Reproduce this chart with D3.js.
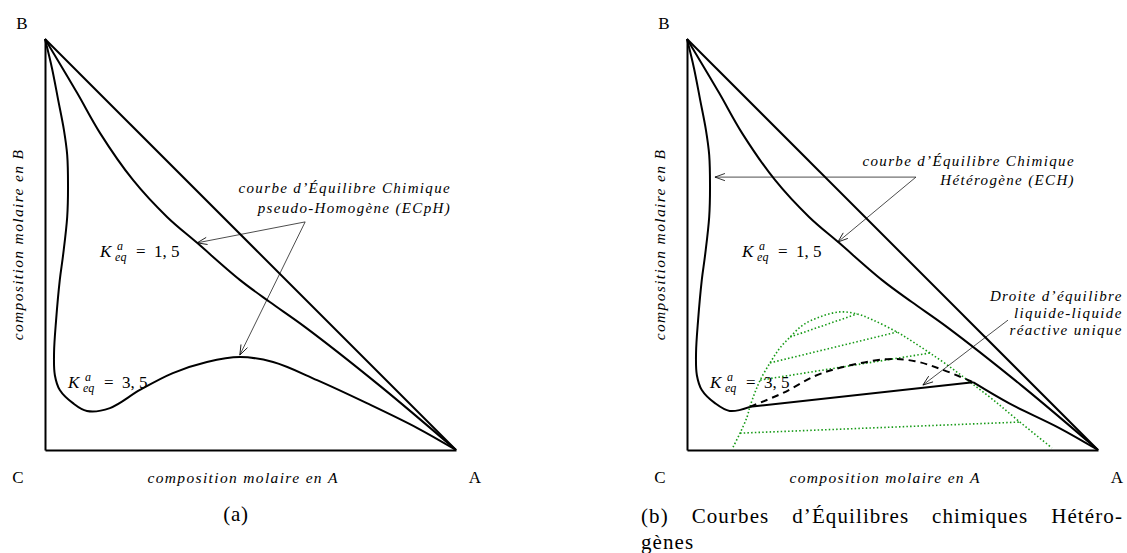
<!DOCTYPE html>
<html>
<head>
<meta charset="utf-8">
<script src="https://cdn.jsdelivr.net/npm/d3@7"></script>
<style>
body { margin: 0; background: #fff; }
.it { font-style: italic; letter-spacing: 1.35px; }
</style>
</head>
<body>
<div id="chart"></div>
<script>
// fractions molaires [xA, xB]
var diagonale = [[0, 1], [1, 0]];

var keq15 = [[0, 1], [0.078, 0.869], [0.134, 0.771], [0.214, 0.657],
    [0.297, 0.567], [0.370, 0.504], [0.474, 0.414], [0.547, 0.360], [0.633, 0.299],
    [0.815, 0.156], [1, 0]];

var keq35 = [[0, 1], [0.017, 0.929], [0.032, 0.852], [0.046, 0.779], [0.054, 0.718],
    [0.056, 0.640], [0.054, 0.567], [0.044, 0.474], [0.036, 0.414], [0.027, 0.316],
    [0.022, 0.236], [0.024, 0.182], [0.036, 0.146], [0.068, 0.114], [0.102, 0.095],
    [0.158, 0.102], [0.231, 0.146], [0.311, 0.187], [0.394, 0.214], [0.474, 0.226],
    [0.555, 0.214], [0.662, 0.170], [0.783, 0.114], [0.905, 0.054], [1, 0]];

// panneau (b) : ECH
var echGauche = [[0, 1], [0.017, 0.929], [0.032, 0.852], [0.046, 0.779], [0.054, 0.718],
    [0.056, 0.640], [0.054, 0.567], [0.044, 0.474], [0.036, 0.414], [0.027, 0.316],
    [0.022, 0.236], [0.024, 0.182], [0.036, 0.146], [0.068, 0.114], [0.104, 0.095],
    [0.153, 0.105]];
var droiteLL = [[0.153, 0.105], [0.696, 0.165]];
var echDroite = [[0.696, 0.165], [0.783, 0.114], [0.905, 0.054], [1, 0]];
var echPointille = [[0.153, 0.105], [0.234, 0.139], [0.311, 0.180], [0.372, 0.200],
    [0.487, 0.221], [0.555, 0.216], [0.620, 0.196], [0.696, 0.165]];

var binodale = [[0.112, 0.007], [0.129, 0.041], [0.146, 0.080], [0.153, 0.105], [0.165, 0.139],
    [0.178, 0.170], [0.202, 0.212], [0.226, 0.248], [0.251, 0.275], [0.282, 0.304],
    [0.324, 0.324], [0.372, 0.336], [0.414, 0.331], [0.453, 0.316], [0.511, 0.287],
    [0.550, 0.263], [0.591, 0.236], [0.640, 0.202], [0.689, 0.165], [0.745, 0.122],
    [0.810, 0.068], [0.888, 0.005]];

var conodes = [
    [[0.129, 0.041], [0.810, 0.068]],
    [[0.178, 0.170], [0.591, 0.236]],
    [[0.202, 0.212], [0.511, 0.287]],
    [[0.251, 0.275], [0.414, 0.331]]
];

// annotations (texte, point de depart des fleches, cibles)
var annotA = {lignes: ["courbe d’Équilibre Chimique", "pseudo-Homogène (ECpH)"],
    pos: [0.988, 0.625], depart: [0.633, 0.555], cibles: [[0.370, 0.504], [0.474, 0.231]]};
var annotB = {lignes: ["courbe d’Équilibre Chimique", "Hétérogène (ECH)"],
    pos: [0.944, 0.691], depart: [0.557, 0.664], cibles: [[0.068, 0.664], [0.367, 0.506]]};
var annotDroite = {lignes: ["Droite d’équilibre", "liquide-liquide", "réactive unique"],
    pos: [1.060, 0.363], depart: [0.781, 0.316], cibles: [[0.574, 0.158]]};

var keqLabels = [{val: "1, 5", pos: [0.134, 0.470]}, {val: "3, 5", pos: [0.056, 0.151]}];

var sommets = ["B", "C", "A"];
var titreX = "composition molaire en A";
var titreY = "composition molaire en B";
var legendeA = "(a)";
var legendeB1 = ["(b)", "Courbes", "d’Équilibres", "chimiques", "Hétéro-"];
var legendeB2 = "gènes";

var W = 411, H = 411;
var police = "'Liberation Serif', 'DejaVu Serif', serif";
var vert = "#169a16";
var xScale = d3.scaleLinear().domain([0, 1]).range([0, W]);
var yScale = d3.scaleLinear().domain([0, 1]).range([H, 0]);

var courbe = d3.line()
    .x(function (d) { return xScale(d[0]); })
    .y(function (d) { return yScale(d[1]); })
    .curve(d3.curveCatmullRom.alpha(0.5));
var droite = d3.line()
    .x(function (d) { return xScale(d[0]); })
    .y(function (d) { return yScale(d[1]); });

var svg = d3.select("#chart").append("svg")
    .attr("width", 1127)
    .attr("height", 553)
    .attr("font-family", police);

svg.append("defs").append("marker")
    .attr("id", "fleche")
    .attr("viewBox", "-11 -6 12 12")
    .attr("refX", 0).attr("refY", 0)
    .attr("markerWidth", 12).attr("markerHeight", 12)
    .attr("markerUnits", "userSpaceOnUse")
    .attr("orient", "auto")
    .append("path")
    .attr("d", "M-10,-3.6L0,0L-10,3.6")
    .attr("fill", "none")
    .attr("stroke", "#000")
    .attr("stroke-width", 0.8);

// petit raccourci : tous les textes passent par ici
function texte(g, px, py, t, taille) {
    return g.append("text").attr("x", px).attr("y", py)
        .attr("font-family", police).attr("font-size", taille).attr("fill", "#000")
        .text(t);
}

// triangle, axes et libelles communs aux deux panneaux
function dessinePanneau(g) {
    g.append("g")
        .attr("transform", "translate(0," + H + ")")
        .call(d3.axisBottom(xScale).tickValues([]).tickSizeOuter(0));
    g.append("g")
        .call(d3.axisLeft(yScale).tickValues([]).tickSizeOuter(0));
    g.selectAll(".domain").attr("stroke", "#000").attr("stroke-width", 2);

    g.append("path").attr("d", droite(diagonale))
        .attr("fill", "none").attr("stroke", "#000").attr("stroke-width", 2);
    g.append("path").attr("d", courbe(keq15))
        .attr("fill", "none").attr("stroke", "#000").attr("stroke-width", 2);

    texte(g, -23, -10, sommets[0], 17).attr("text-anchor", "middle");
    texte(g, -27, H + 33, sommets[1], 17).attr("text-anchor", "middle");
    texte(g, W + 19, H + 33, sommets[2], 17).attr("text-anchor", "middle");

    texte(g, xScale(0.482), H + 33, titreX, 15.5)
        .attr("class", "it").attr("text-anchor", "middle");
    texte(g, 0, 0, titreY, 15.5)
        .attr("class", "it").attr("text-anchor", "middle")
        .attr("transform", "translate(-22," + yScale(0.5) + ") rotate(-90)");
}

function keqLabel(g, d) {
    var px = xScale(d.pos[0]), py = yScale(d.pos[1]);
    texte(g, px, py, "K", 17).attr("font-style", "italic");
    texte(g, px + 17, py - 7, "a", 12).attr("font-style", "italic");
    texte(g, px + 15, py + 4, "eq", 12).attr("font-style", "italic");
    texte(g, px + 36, py, "=", 17);
    texte(g, px + 54, py, d.val, 17).attr("xml:space", "preserve");
}

function annotation(g, a, pas) {
    a.lignes.forEach(function (l, i) {
        texte(g, xScale(a.pos[0]), yScale(a.pos[1]) + i * pas, l, 15)
            .attr("class", "it").attr("text-anchor", "end");
    });
    a.cibles.forEach(function (c) {
        g.append("path").attr("d", droite([a.depart, c]))
            .attr("fill", "none").attr("stroke", "#000").attr("stroke-width", 0.7)
            .attr("marker-end", "url(#fleche)");
    });
}

// ---- panneau (a)
var gA = svg.append("g").attr("transform", "translate(45,39)");
dessinePanneau(gA);
gA.append("path").attr("d", courbe(keq35))
    .attr("fill", "none").attr("stroke", "#000").attr("stroke-width", 2);
keqLabels.forEach(function (d) { keqLabel(gA, d); });
annotation(gA, annotA, 20);

// ---- panneau (b)
var gB = svg.append("g").attr("transform", "translate(687,39)");
dessinePanneau(gB);
keqLabels.forEach(function (d) { keqLabel(gB, d); });

gB.append("path").attr("d", courbe(binodale))
    .attr("fill", "none").attr("stroke", vert).attr("stroke-width", 1.6)
    .attr("stroke-dasharray", "1.5,2.2");
gB.selectAll(".conode").data(conodes).enter().append("path")
    .attr("class", "conode")
    .attr("d", function (d) { return droite(d); })
    .attr("fill", "none").attr("stroke", vert).attr("stroke-width", 1.6)
    .attr("stroke-dasharray", "1.5,2.2");

gB.append("path").attr("d", courbe(echGauche))
    .attr("fill", "none").attr("stroke", "#000").attr("stroke-width", 2);
gB.append("path").attr("d", droite(droiteLL))
    .attr("fill", "none").attr("stroke", "#000").attr("stroke-width", 2);
gB.append("path").attr("d", courbe(echDroite))
    .attr("fill", "none").attr("stroke", "#000").attr("stroke-width", 2);
gB.append("path").attr("d", courbe(echPointille))
    .attr("fill", "none").attr("stroke", "#000").attr("stroke-width", 2)
    .attr("stroke-dasharray", "7,5");

annotation(gB, annotB, 19);
annotation(gB, annotDroite, 17);

// ---- legendes
texte(svg, 236, 521, legendeA, 21).attr("text-anchor", "middle").attr("letter-spacing", "0.8px");

// ligne justifiee de 641 a 1123
var mots = svg.selectAll(".motB").data(legendeB1).enter().append("text")
    .attr("class", "motB").attr("y", 523)
    .attr("font-family", police).attr("font-size", 21)
    .attr("letter-spacing", "1.1px")
    .text(function (d) { return d; });
var largeurs = [];
mots.each(function () { largeurs.push(this.getComputedTextLength()); });
var ecart = (1123 - 641 - d3.sum(largeurs)) / (largeurs.length - 1);
var cx = 641;
mots.attr("x", function (d, i) {
    var v = cx;
    cx += largeurs[i] + ecart;
    return v;
});
texte(svg, 641, 549, legendeB2, 21).attr("letter-spacing", "1.1px");
</script>
</body>
</html>
